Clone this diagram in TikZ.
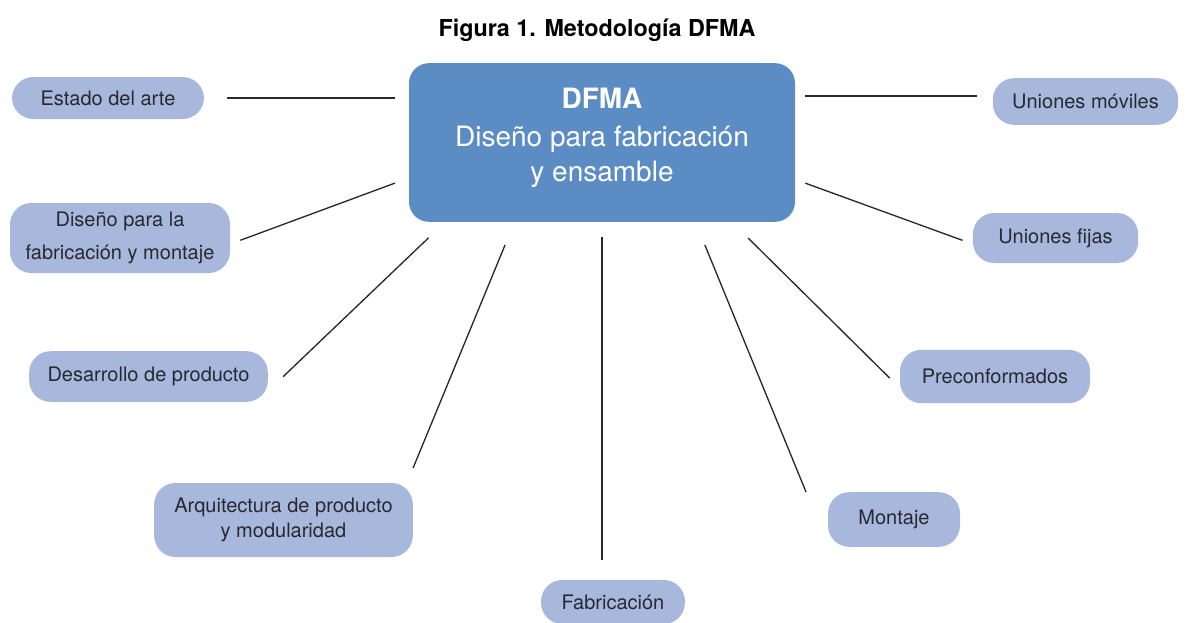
\documentclass[tikz,border=0pt]{standalone}
\usepackage{fontspec}
\setmainfont{TeX Gyre Heros}

\definecolor{hubblue}{RGB}{92,140,196}
\definecolor{topicblue}{RGB}{168,184,220}
\definecolor{inkgray}{RGB}{40,40,48}

\tikzset{
  hub/.style={fill=hubblue, rounded corners=15pt, text=white, align=center,
    inner sep=0pt, minimum width=289.5pt, minimum height=119pt, text depth=12pt,
    font=\fontsize{21}{26}\selectfont},
  topic/.style={fill=topicblue, rounded corners=16pt, text=inkgray, align=center,
    inner sep=0pt, font=\fontsize{15}{18.5}\selectfont},
  link/.style={draw=inkgray, line width=1pt},
}

\begin{document}
\begin{tikzpicture}[x=0.75pt, y=-0.75pt]
  \useasboundingbox (0,0) rectangle (1189,622);

  \node[font=\fontsize{17.5}{20}\selectfont\bfseries] (title) at (597,30) {Figura 1. Metodología DFMA};

  % centro
  \node[hub] (hub) at (602,142.5) {{\bfseries DFMA}\\[3pt]Diseño para fabricación\\y ensamble};

  % temas
  \node[topic, minimum width=144pt, minimum height=31.5pt] (est) at (108,98) {Estado del arte};
  \node[topic, minimum width=165pt, minimum height=52.5pt] (dis) at (120,238) {Diseño para la\\[6pt]fabricación y montaje};
  \node[topic, minimum width=179pt, minimum height=38pt] (des) at (148.5,376.5) {Desarrollo de producto};
  \node[topic, minimum width=194pt, minimum height=55.5pt] (arq) at (283.5,520) {Arquitectura de producto\\y modularidad};
  \node[topic, minimum width=108pt, minimum height=33pt] (fab) at (613,602) {Fabricación};
  \node[topic, minimum width=99pt, minimum height=41pt] (mon) at (894,519.5) {Montaje};
  \node[topic, minimum width=142.5pt, minimum height=40pt] (pre) at (995,376.5) {Preconformados};
  \node[topic, minimum width=124pt, minimum height=37.5pt] (fij) at (1055.5,238) {Uniones fijas};
  \node[topic, minimum width=139pt, minimum height=35pt] (mov) at (1085.5,101.5) {Uniones móviles};

  % conexiones
  \draw[link, shorten <=17pt, shorten >=10.5pt] (est.east) -- (est.east -| hub.west);
  \draw[link, shorten <=8pt, shorten >=11pt] (dis.east |- 0,244) -- (hub.west |- 0,178);
  \draw[link, shorten <=15.5pt, shorten >=17pt] (des.east |- 0,391) -- (hub.south -| 445,0);
  \draw[link, shorten <=12pt, shorten >=18.5pt] (arq.north -| 407,0) -- (hub.south -| 514.5,0);
  \draw[link, shorten <=15pt, shorten >=11pt] (fab.north -| hub.south) -- (hub.south);
  \draw[link, shorten >=18.5pt] (mon.north -| 806,0) -- (hub.south -| 695.5,0);
  \draw[link, shorten <=10.5pt, shorten >=17pt] (pre.west |- 0,388) -- (hub.south -| 732,0);
  \draw[link, shorten <=8pt, shorten >=8pt] (fij.west |- 0,244) -- (hub.east |- 0,179.5);
  \draw[link, shorten <=12pt, shorten >=7.5pt] (mov.west |- 0,96) -- (hub.east |- 0,96);
\end{tikzpicture}
\end{document}
